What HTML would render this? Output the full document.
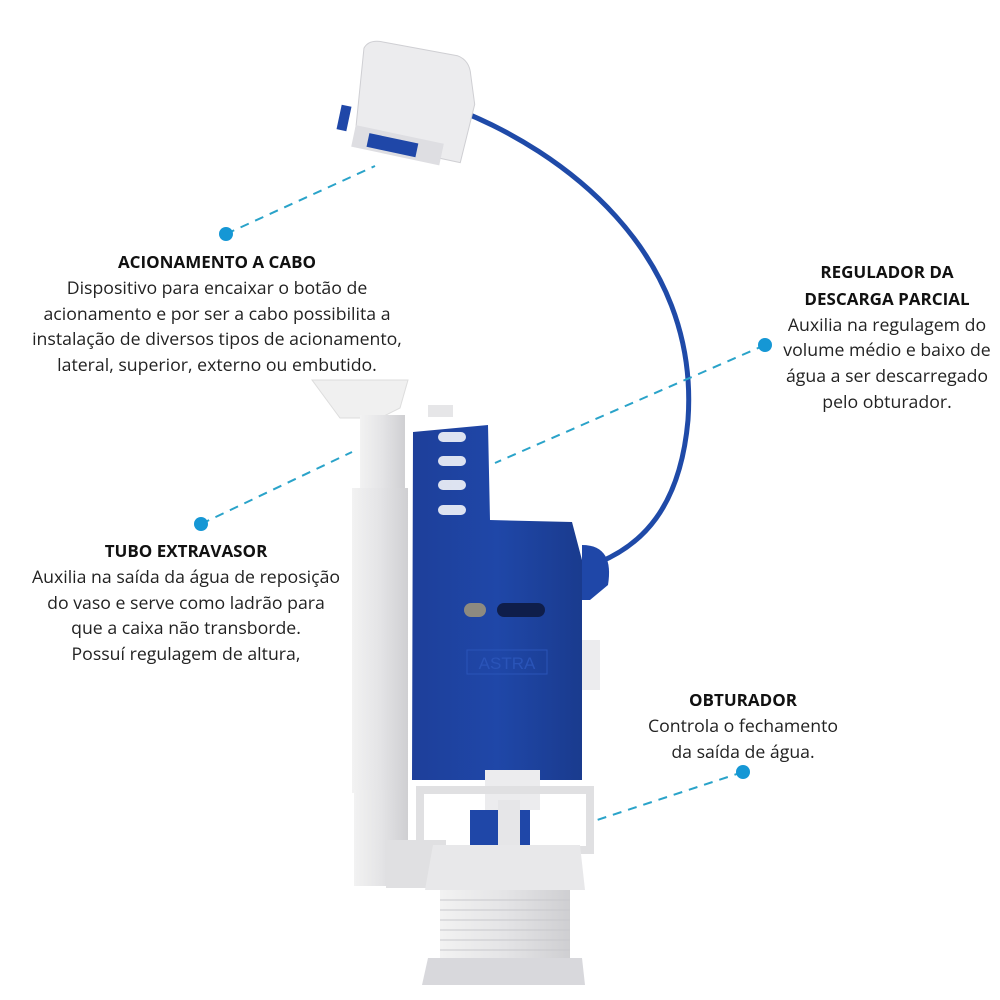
<!DOCTYPE html>
<html><head><meta charset="utf-8"><style>
body{margin:0;background:#fff;width:1000px;height:1000px;overflow:hidden;position:relative;font-family:"Open Sans","Liberation Sans","DejaVu Sans",sans-serif;color:#222}
.t{position:absolute;text-align:center;font-size:17.7px;line-height:25.8px;white-space:nowrap}
.t b{font-size:17px;color:#111}
svg{position:absolute;left:0;top:0}
</style></head><body>
<svg width="1000" height="1000" viewBox="0 0 1000 1000">
<defs>
<linearGradient id="w" x1="0" x2="1"><stop offset="0" stop-color="#f2f2f2"/><stop offset=".5" stop-color="#e4e4e6"/><stop offset="1" stop-color="#cfcfd2"/></linearGradient>
<linearGradient id="b" x1="0" x2="1"><stop offset="0" stop-color="#1e3f9a"/><stop offset=".5" stop-color="#1f47a8"/><stop offset="1" stop-color="#1a3b8e"/></linearGradient>
</defs>
<path d="M458 110 C560 150 700 250 688 420 C680 510 640 545 600 562" fill="none" stroke="#1f4aa8" stroke-width="5"/>
<g transform="rotate(12 405 110)">
<path d="M352 58 Q355 48 370 48 L445 46 Q458 48 462 62 L472 90 L470 150 L362 150 Z" fill="#ececee" stroke="#cfcfd3"/>
<rect x="360" y="135" width="90" height="22" fill="#dedee2"/>
<rect x="375" y="140" width="50" height="14" fill="#1f47a8"/>
<rect x="342" y="118" width="10" height="25" fill="#1f47a8"/>
</g>
<g stroke="#2aa3c9" stroke-width="2" stroke-dasharray="9 7" fill="none">
<line x1="226" y1="234" x2="375" y2="166"/>
<line x1="765" y1="345" x2="495" y2="463"/>
<line x1="201" y1="524" x2="352" y2="452"/>
<line x1="743" y1="772" x2="588" y2="823"/>
</g>
<g fill="#1597d5"><circle cx="226" cy="234" r="7"/><circle cx="765" cy="345" r="7"/><circle cx="201" cy="524" r="7"/><circle cx="743" cy="772" r="7"/></g>
<path d="M312 380 L408 380 L400 408 L380 418 L340 418 Z" fill="#f0f0f0" stroke="#ddd"/>
<rect x="360" y="415" width="45" height="75" fill="url(#w)"/>
<rect x="352" y="488" width="56" height="305" fill="url(#w)"/>
<rect x="354" y="790" width="54" height="96" fill="url(#w)"/>
<rect x="386" y="840" width="60" height="48" fill="#e0e0e2"/>
<rect x="428" y="405" width="25" height="12" fill="#e6e6e8"/>
<path d="M413 432 L488 425 L490 520 L572 522 L582 560 L582 780 L412 780 Z" fill="url(#b)"/>
<path d="M582 545 C605 545 612 560 608 585 L590 600 L582 600 Z" fill="#1f47a8"/>
<rect x="582" y="640" width="18" height="50" fill="#ececee"/>
<g fill="#fff" opacity=".85"><rect x="438" y="432" width="28" height="10" rx="5"/><rect x="438" y="456" width="28" height="10" rx="5"/><rect x="438" y="480" width="28" height="10" rx="5"/><rect x="438" y="505" width="28" height="10" rx="5"/></g>
<rect x="464" y="603" width="22" height="14" rx="7" fill="#8d8a80"/>
<rect x="497" y="603" width="48" height="14" rx="7" fill="#0f1e4a"/>
<rect x="467" y="650" width="80" height="24" fill="none" stroke="#2a54b8"/>
<text x="507" y="669" font-family="Liberation Sans" font-size="17" fill="#2a54b8" text-anchor="middle">ASTRA</text>
<rect x="485" y="770" width="55" height="40" fill="#ececee"/>
<path d="M420 790 L590 790 L590 850 L420 850 Z" fill="none" stroke="#e0e0e2" stroke-width="8"/>
<rect x="470" y="810" width="60" height="35" fill="#1f47a8"/>
<rect x="498" y="800" width="22" height="60" fill="#e6e6e8"/>
<path d="M433 845 L580 845 L585 890 L425 890 Z" fill="#e8e8ea"/>
<rect x="440" y="890" width="130" height="68" fill="url(#w)"/>
<g stroke="#c8c8cc" stroke-width="1"><line x1="440" y1="900" x2="570" y2="900"/><line x1="440" y1="910" x2="570" y2="910"/><line x1="440" y1="920" x2="570" y2="920"/><line x1="440" y1="930" x2="570" y2="930"/><line x1="440" y1="940" x2="570" y2="940"/><line x1="440" y1="950" x2="570" y2="950"/></g>
<path d="M428 958 L582 958 L585 985 L422 985 Z" fill="#d8d8dc"/>
</svg>
<div class="t" style="left:17px;width:400px;top:249px"><b>ACIONAMENTO A CABO</b><br>Dispositivo para encaixar o botão de<br>acionamento e por ser a cabo possibilita a<br>instalação de diversos tipos de acionamento,<br>lateral, superior, externo ou embutido.</div>
<div class="t" style="left:767px;width:240px;top:259px"><b>REGULADOR DA<br>DESCARGA PARCIAL</b><br>Auxilia na regulagem do<br>volume médio e baixo de<br>água a ser descarregado<br>pelo obturador.</div>
<div class="t" style="left:6px;width:360px;top:538px"><b>TUBO EXTRAVASOR</b><br>Auxilia na saída da água de reposição<br>do vaso e serve como ladrão para<br>que a caixa não transborde.<br>Possuí regulagem de altura,</div>
<div class="t" style="left:623px;width:240px;top:687px"><b>OBTURADOR</b><br>Controla o fechamento<br>da saída de água.</div>
</body></html>
